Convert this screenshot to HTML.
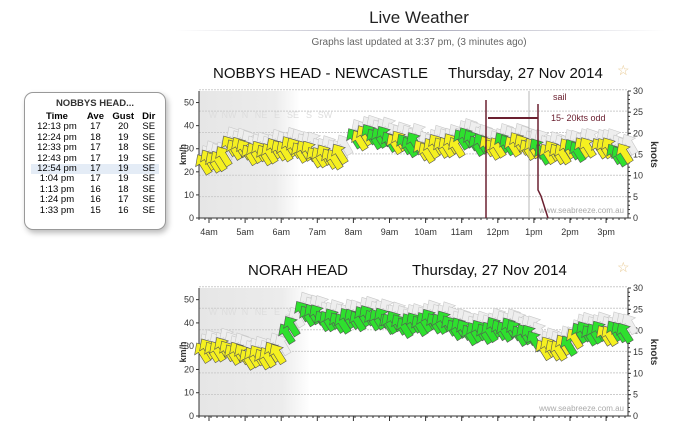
<!DOCTYPE html>
<html><head><meta charset="utf-8"><style>
body{margin:0;width:700px;height:421px;background:#fff;overflow:hidden;font-family:"Liberation Sans",sans-serif;position:relative}
.a{position:absolute;white-space:nowrap}
#box{position:absolute;left:24px;top:92px;width:140px;height:136px;border:1px solid #999;border-radius:9px;box-shadow:2px 3px 6px #bbb;background:#fff;font-size:9.5px}
#box table{border-collapse:collapse;margin:3px auto 0;width:128px}
#box td{padding:0 2px;height:10.4px;line-height:10.4px;text-align:center}
</style></head><body>
<div class="a" style="left:0;width:838px;top:8px;text-align:center;font-size:17px;color:#222">Live Weather</div>
<div class="a" style="left:175px;top:30px;width:490px;height:1px;background:linear-gradient(90deg,#fff,#aab,#fff)"></div>
<div class="a" style="left:0;width:838px;top:37px;text-align:center;font-size:10px;color:#666">Graphs last updated at 3:37 pm, (3 minutes ago)</div>
<div class="a" style="left:213px;top:65px;font-size:15px;color:#111">NOBBYS HEAD - NEWCASTLE</div>
<div class="a" style="left:448px;top:65px;font-size:15px;color:#111">Thursday, 27 Nov 2014</div>
<div class="a" style="left:617px;top:62px;font-size:14px;color:#e8c890">☆</div>
<div class="a" style="left:248px;top:262px;font-size:15px;color:#111">NORAH HEAD</div>
<div class="a" style="left:412px;top:262px;font-size:15px;color:#111">Thursday, 27 Nov 2014</div>
<div class="a" style="left:617px;top:259px;font-size:14px;color:#e8c890">☆</div>
<div id="box"><div style="text-align:center;font-weight:bold;margin-top:5px;color:#333">NOBBYS HEAD...</div>
<table><tr style="font-weight:bold"><td>Time</td><td>Ave</td><td>Gust</td><td>Dir</td></tr>
<tr><td>12:13 pm</td><td>17</td><td>20</td><td>SE</td></tr>
<tr><td>12:24 pm</td><td>18</td><td>19</td><td>SE</td></tr>
<tr><td>12:33 pm</td><td>17</td><td>18</td><td>SE</td></tr>
<tr><td>12:43 pm</td><td>17</td><td>19</td><td>SE</td></tr>
<tr style="background:#e4ecf6"><td>12:54 pm</td><td>17</td><td>19</td><td>SE</td></tr>
<tr><td>1:04 pm</td><td>17</td><td>19</td><td>SE</td></tr>
<tr><td>1:13 pm</td><td>16</td><td>18</td><td>SE</td></tr>
<tr><td>1:24 pm</td><td>16</td><td>17</td><td>SE</td></tr>
<tr><td>1:33 pm</td><td>15</td><td>16</td><td>SE</td></tr></table></div>
<svg id="s" class="a" style="left:0;top:0" width="700" height="421" font-family="Liberation Sans, sans-serif"></svg>
<script>
var s=document.getElementById('s'),h='';
function chart(top,bot,night,segs,labels){
 var L=199,R=628,ppu=(bot-top)/55;
 h+='<defs><linearGradient id="g'+top+'" x1="0" x2="1"><stop offset="0" stop-color="#e6e6e6"/><stop offset="0.75" stop-color="#ececec"/><stop offset="1" stop-color="#fff"/></linearGradient></defs>';
 h+='<rect x="'+L+'" y="'+top+'" width="'+(night-L)+'" height="'+(bot-top)+'" fill="url(#g'+top+')"/>';
 for(var k=5;k<=30;k+=5){var y=bot-k*1.852*ppu;h+='<line x1="'+L+'" x2="'+R+'" y1="'+y+'" y2="'+y+'" stroke="#ccc" stroke-dasharray="2,1"/>';}
 for(var v=0;v<=50;v+=10){var y=bot-v*ppu;h+='<text x="'+(L-5)+'" y="'+(y+3)+'" font-size="9" text-anchor="end" fill="#333">'+v+'</text><line x1="'+(L-3)+'" x2="'+L+'" y1="'+y+'" y2="'+y+'" stroke="#333"/>';}
 for(var k=0;k<=30;k+=5){var y=bot-k*(bot-top)/30;h+='<text x="'+(R+5)+'" y="'+(y+3)+'" font-size="9" fill="#333">'+k+'</text><line x1="'+R+'" x2="'+(R+3)+'" y1="'+y+'" y2="'+y+'" stroke="#333"/>';}
 for(var k=0;k<=30;k++){var y=bot-k*(bot-top)/30;h+='<line x1="'+R+'" x2="'+(R+2)+'" y1="'+y+'" y2="'+y+'" stroke="#333"/>';}
 h+='<line x1="'+L+'" x2="'+L+'" y1="'+top+'" y2="'+bot+'" stroke="#333"/><line x1="'+R+'" x2="'+R+'" y1="'+top+'" y2="'+bot+'" stroke="#333"/><line x1="'+L+'" x2="'+R+'" y1="'+bot+'" y2="'+bot+'" stroke="#333"/>';
 for(var x=L;x<=R;x+=6)h+='<line x1="'+x+'" x2="'+x+'" y1="'+bot+'" y2="'+(bot+2)+'" stroke="#333"/>';
 for(var i=0;i<12;i++){var x=209+36.1*i;h+='<line x1="'+x+'" x2="'+x+'" y1="'+bot+'" y2="'+(bot+5)+'" stroke="#333"/>';if(labels)h+='<text x="'+x+'" y="'+(bot+17)+'" font-size="9" text-anchor="middle" fill="#333">'+labels[i]+'</text>';}
 var my=(top+bot)/2;
 h+='<text transform="translate(186,'+my+') rotate(-90)" font-size="9" font-weight="bold" text-anchor="middle" fill="#333">km/h</text>';
 h+='<text transform="translate(651,'+my+') rotate(90)" font-size="10" font-weight="bold" text-anchor="middle" fill="#333">knots</text>';
 var d=['W','NW','N','NE','E','SE','S','SW'];
 for(var i=0;i<8;i++)h+='<text x="'+(213+16*i)+'" y="'+(top+27)+'" font-size="9" fill="#ddd" text-anchor="middle">'+d[i]+'</text>';
 h+='<text x="'+(R-4)+'" y="'+(bot-5)+'" font-size="8" fill="#aaa" text-anchor="end">www.seabreeze.com.au</text>';
 var P='0,-12 8,-3 3.5,-3 3.5,10 -3.5,10 -3.5,-3 -8,-3',arr='',gh='';
 var i=0;
 segs.forEach(function(sg){for(var x=sg[0];x<sg[1];x+=5){var t=(x-sg[0])/(sg[1]-sg[0]);var v=sg[2]+(sg[3]-sg[2])*t+1.5*Math.sin(i*0.45)+1.2*Math.sin(i*1.9);var col=sg[4];if(sg[5]&&Math.sin(i*0.9)>0.6)col=sg[5];var y=bot-v*ppu;
 gh+='<polygon points="'+P+'" transform="translate('+(x+5)+','+(y-9)+') rotate(-30)" fill="#eee" stroke="#c8c8c8" stroke-width="0.6"/>';
 arr+='<polygon points="'+P+'" transform="translate('+x+','+y+') rotate(-32)" fill="'+(col=='y'?'#f5f020':'#2ee02e')+'" stroke="#555" stroke-width="0.6"/>';i++;}});
 h+=gh+arr;
}
chart(91,218,300,[[204,226,23,24,'y'],[230,345,30,27,'y'],[355,420,34,33,'g','y'],[422,458,29,30,'y'],[462,486,35,33,'g'],[488,525,31,30,'y','g'],[528,592,30,28,'y','g'],[600,628,30,28,'y','g']],['4am','5am','6am','7am','8am','9am','10am','11am','12pm','1pm','2pm','3pm']);
chart(288,416,310,[[203,283,27,26,'y'],[287,297,35,37,'g'],[303,390,43,40,'g'],[390,540,41,34,'g'],[544,570,30,29,'y','g'],[575,628,33,38,'g','y']],null);
var m='#6b2030';
h+='<line x1="529" x2="529" y1="91" y2="218" stroke="#999" stroke-width="0.7"/>';
h+='<polyline points="486,100 486,218" stroke="'+m+'" stroke-width="1.5" fill="none"/>';
h+='<polyline points="488,118 538,118" stroke="'+m+'" stroke-width="2" fill="none"/>';
h+='<polyline points="538,104 538,190 541,196 548,218" stroke="'+m+'" stroke-width="1.5" fill="none"/>';
h+='<text x="553" y="100" font-size="9" fill="'+m+'">sail</text><text x="551" y="121" font-size="9" fill="'+m+'">15- 20kts odd</text>';
s.innerHTML=h;
</script>
</body></html>
